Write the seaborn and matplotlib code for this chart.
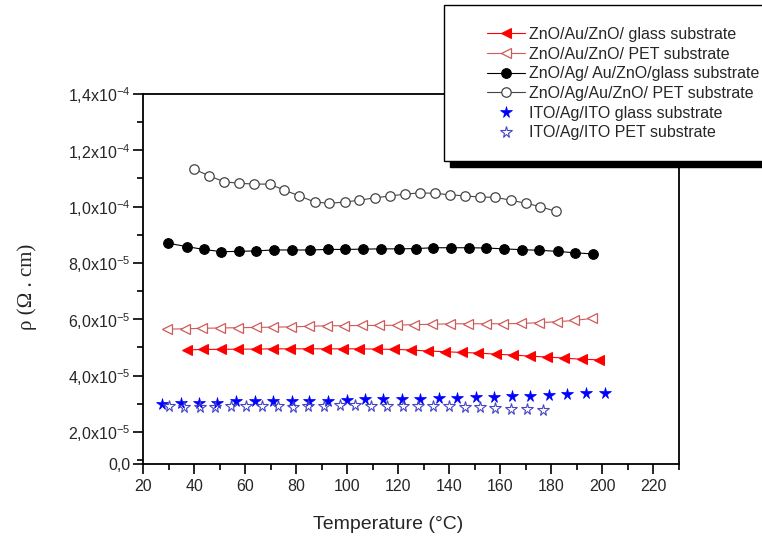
import numpy as np
import seaborn as sns
import matplotlib.pyplot as plt
from matplotlib.patches import Rectangle
from matplotlib.ticker import MultipleLocator, FixedLocator, FixedFormatter

# values (rho in units of 1e-5 ohm.cm)
t_auzno_glass = [37.1, 43.6, 50.4, 57.2, 64.1, 70.9, 77.7, 84.6, 91.5, 98.2, 104.8, 111.5,
                 118.4, 125.0, 131.8, 138.3, 144.9, 151.4, 158.2, 164.9, 171.6, 178.3, 185.1, 191.8, 198.5]
rho_auzno_glass = [4.91, 4.93, 4.93, 4.94, 4.94, 4.95, 4.95, 4.95, 4.95, 4.95, 4.95, 4.94,
                   4.93, 4.91, 4.87, 4.85, 4.82, 4.80, 4.76, 4.73, 4.69, 4.66, 4.62, 4.58, 4.56]

t_auzno_pet = [29.5, 36.4, 43.3, 50.1, 57.2, 64.1, 70.9, 78.1, 85.0, 92.0, 98.9, 105.8,
               112.6, 119.5, 126.3, 133.2, 140.2, 147.3, 154.3, 161.1, 168.2, 175.1, 182.0, 189.0, 195.9]
rho_auzno_pet = [5.65, 5.66, 5.68, 5.69, 5.70, 5.71, 5.72, 5.73, 5.75, 5.77, 5.77, 5.78,
                 5.78, 5.79, 5.81, 5.82, 5.84, 5.84, 5.84, 5.84, 5.85, 5.88, 5.91, 5.96, 6.03]

t_agau_glass = [29.9, 37.1, 43.8, 50.7, 57.6, 64.4, 71.4, 78.5, 85.3, 92.3, 99.3, 106.2,
                113.2, 120.1, 126.9, 133.8, 140.6, 147.6, 154.5, 161.5, 168.4, 175.3, 182.4, 189.2, 196.2]
rho_agau_glass = [8.70, 8.58, 8.48, 8.40, 8.41, 8.43, 8.46, 8.46, 8.46, 8.48, 8.48, 8.49,
                  8.50, 8.50, 8.51, 8.54, 8.54, 8.54, 8.53, 8.50, 8.47, 8.45, 8.41, 8.36, 8.32]

t_agau_pet = [39.9, 45.9, 51.9, 57.6, 63.6, 69.6, 75.2, 81.3, 87.3, 93.0, 99.0, 104.8,
              110.7, 116.8, 122.5, 128.5, 134.4, 140.4, 146.2, 152.0, 158.0, 164.0, 169.9, 175.7, 181.8]
rho_agau_pet = [11.34, 11.09, 10.88, 10.83, 10.80, 10.80, 10.59, 10.38, 10.16, 10.12, 10.16, 10.23,
                10.31, 10.38, 10.44, 10.49, 10.47, 10.42, 10.38, 10.34, 10.33, 10.23, 10.12, 10.00, 9.83]

t_ito_glass = [27.3, 34.7, 42.0, 49.0, 56.3, 63.7, 70.9, 78.3, 85.2, 92.5, 99.8, 107.1,
               114.2, 121.4, 128.6, 136.0, 143.2, 150.3, 157.5, 164.6, 171.8, 179.0, 186.1, 193.5, 200.9]
rho_ito_glass = [3.00, 3.02, 3.01, 3.02, 3.08, 3.08, 3.09, 3.08, 3.09, 3.11, 3.15, 3.18,
                 3.17, 3.17, 3.18, 3.20, 3.21, 3.23, 3.24, 3.26, 3.28, 3.31, 3.34, 3.37, 3.39]

t_ito_pet = [30.3, 36.0, 42.3, 48.2, 54.3, 60.5, 66.8, 72.9, 78.7, 84.8, 90.9, 97.0,
             103.2, 109.3, 115.6, 121.7, 127.7, 133.7, 139.8, 146.0, 152.0, 158.0, 164.2, 170.5, 176.6]
rho_ito_pet = [2.92, 2.89, 2.89, 2.89, 2.92, 2.92, 2.92, 2.92, 2.89, 2.92, 2.92, 2.94,
               2.94, 2.93, 2.92, 2.92, 2.92, 2.92, 2.91, 2.87, 2.87, 2.85, 2.81, 2.80, 2.77]

labels = ['ZnO/Au/ZnO/ glass substrate', 'ZnO/Au/ZnO/ PET substrate',
          'ZnO/Ag/ Au/ZnO/glass substrate', 'ZnO/Ag/Au/ZnO/ PET substrate',
          'ITO/Ag/ITO glass substrate', 'ITO/Ag/ITO PET substrate']

y_ticks = [2e-5, 4e-5, 6e-5, 8e-5, 1e-4, 1.2e-4, 1.4e-4]
y_tick_labels = ['2,0x10$^{-5}$', '4,0x10$^{-5}$', '6,0x10$^{-5}$', '8,0x10$^{-5}$',
                 '1,0x10$^{-4}$', '1,2x10$^{-4}$', '1,4x10$^{-4}$']
y_min = 0.86e-5

sns.set_style('ticks')
plt.rcParams['font.family'] = ['Liberation Sans', 'DejaVu Sans']
plt.rcParams['mathtext.fontset'] = 'custom'
plt.rcParams['mathtext.rm'] = 'Liberation Sans'
plt.rcParams['mathtext.it'] = 'Liberation Sans:italic'
plt.rcParams['mathtext.default'] = 'regular'

fig = plt.figure(figsize=(7.62, 5.42), dpi=100)
ax = fig.add_axes([0.1877, 0.1439, 0.7034, 0.6827])

def e5(v):
    return np.array(v) * 1e-5

sns.lineplot(x=t_auzno_glass, y=e5(rho_auzno_glass), ax=ax, color='#ff0000', lw=0.8,
             marker='<', markersize=7.5, markerfacecolor='#ff0000', markeredgecolor='#ff0000',
             label=labels[0])
sns.lineplot(x=t_auzno_pet, y=e5(rho_auzno_pet), ax=ax, color='#cf5a5a', lw=0.8,
             marker='<', markersize=7.5, markerfacecolor='white', markeredgecolor='#cf5a5a',
             markeredgewidth=0.9, label=labels[1])
sns.lineplot(x=t_agau_glass, y=e5(rho_agau_glass), ax=ax, color='black', lw=0.8,
             marker='o', markersize=7, markerfacecolor='black', markeredgecolor='black',
             label=labels[2])
sns.lineplot(x=t_agau_pet, y=e5(rho_agau_pet), ax=ax, color='#444444', lw=0.8,
             marker='o', markersize=6.8, markerfacecolor='white', markeredgecolor='#444444',
             markeredgewidth=0.9, label=labels[3])
sns.lineplot(x=t_ito_glass, y=e5(rho_ito_glass), ax=ax, color='#0000ff', linestyle='none',
             marker='*', markersize=8.5, markerfacecolor='#0000ff', markeredgecolor='#0000ff',
             markeredgewidth=0.5, label=labels[4])
sns.lineplot(x=t_ito_pet, y=e5(rho_ito_pet), ax=ax, color='#4646c4', linestyle='none',
             marker='*', markersize=8.5, markerfacecolor='none', markeredgecolor='#4646c4',
             markeredgewidth=0.8, label=labels[5])

ax.set_xlim(20, 230)
ax.set_ylim(y_min, 1.4e-4)
ax.xaxis.set_major_locator(MultipleLocator(20))
ax.xaxis.set_minor_locator(MultipleLocator(10))
ax.yaxis.set_major_locator(FixedLocator([y_min] + y_ticks))
ax.yaxis.set_major_formatter(FixedFormatter(['0,0'] + y_tick_labels))
ax.yaxis.set_minor_locator(MultipleLocator(1e-5))
ax.tick_params(which='major', direction='out', length=7, width=1.2, labelsize=11.5, color='black')
ax.tick_params(which='minor', direction='out', length=4, width=1.2, color='black')
ax.tick_params(axis='y', which='major', pad=2)
for sp in ax.spines.values():
    sp.set_linewidth(1.3)
    sp.set_color('black')

ax.set_xlabel('Temperature (°C)', fontsize=14)
ax.xaxis.set_label_coords(0.457, -0.14)
ax.set_ylabel('ρ (Ω . cm)', fontsize=15, family=['Liberation Serif', 'DejaVu Serif'])
ax.yaxis.set_label_coords(-0.198, 0.478)

# legend box with the heavy Origin-style shadow
handles, labs = ax.get_legend_handles_labels()
ax.get_legend().remove()
fig.patches.append(Rectangle((450 / 762, 1 - 167 / 542), 330 / 762, 156 / 542,
                             transform=fig.transFigure, fc='black', ec='black', zorder=2))
fig.patches.append(Rectangle((444 / 762, 1 - 161 / 542), 330 / 762, 156 / 542,
                             transform=fig.transFigure, fc='white', ec='black', lw=1, zorder=3))
fig.legend(handles, labs, loc='upper left', bbox_to_anchor=(487 / 762, 1 - 27 / 542),
           frameon=False, borderpad=0, borderaxespad=0, handlelength=2.4, handletextpad=0.2,
           labelspacing=0.29, fontsize=11.5, numpoints=1)

fig.savefig('out.png', dpi=100)
